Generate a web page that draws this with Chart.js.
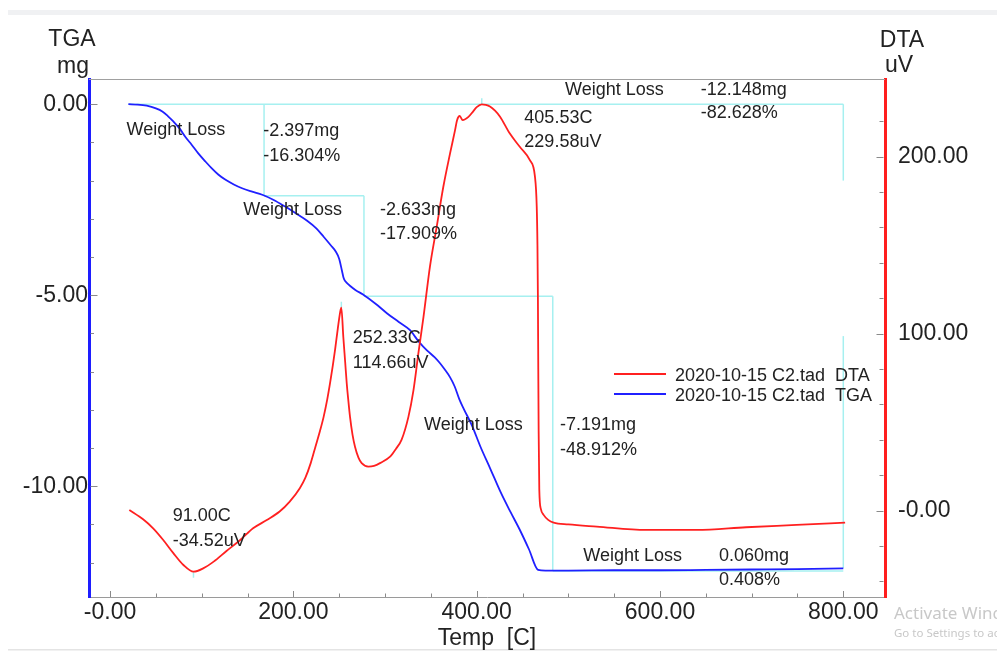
<!DOCTYPE html>
<html>
<head>
<meta charset="utf-8">
<script src="https://cdn.jsdelivr.net/npm/chart.js@4.4.0/dist/chart.umd.min.js"></script>
<style>
  html, body { margin: 0; padding: 0; background: #fff; }
  #wrap { width: 997px; height: 651px; position: relative; }
</style>
</head>
<body>
<div id="wrap"><canvas id="tgaChart"></canvas></div>
<script>
// TGA curve: temperature (C) and mass change (mg)
const tgaTemp = [20, 30, 40, 50, 57, 63, 69, 76, 82, 89, 96, 104, 111, 118, 126, 135, 144, 155, 166, 178,
  191, 203, 215, 225, 233, 241, 246, 250, 253, 254.5, 256, 258, 262, 268, 276, 290, 302, 315, 327, 337,
  346, 354, 360, 365, 371, 376, 381, 386, 395, 404, 415, 426, 437, 447, 457, 467, 475, 500, 550, 600,
  650, 700, 750, 800];
const tgaMass = [0, -0.01, -0.04, -0.11, -0.19, -0.31, -0.45, -0.64, -0.85, -1.06, -1.28, -1.50, -1.68, -1.84, -1.98, -2.10, -2.20, -2.29, -2.37, -2.50,
  -2.68, -2.86, -3.05, -3.25, -3.47, -3.70, -3.85, -4.05, -4.36, -4.52, -4.61, -4.67, -4.76, -4.87, -4.98, -5.23, -5.47, -5.70, -5.91, -6.22,
  -6.45, -6.62, -6.78, -6.94, -7.15, -7.39, -7.72, -7.98, -8.42, -8.96, -9.55, -10.15, -10.68, -11.14, -11.65, -12.19, -12.21, -12.21, -12.20, -12.20,
  -12.19, -12.18, -12.17, -12.15];

// DTA curve: temperature (C) and signal (uV)
const dtaTemp = [21, 36, 47, 58, 69, 80, 91, 102, 113, 127, 142, 156, 171, 185, 196, 207, 213, 219, 224, 229,
  233, 237, 240, 243, 245.5, 248.5, 251, 252.3, 254.5, 256.5, 258.2, 260, 261.8, 264.5, 267.3, 271, 274.5, 281.8, 288, 295,
  305.5, 312, 318, 325.5, 331, 336.4, 342, 349, 356.4, 363.6, 371, 376.4, 378.5, 381.5, 384.7, 391, 396, 400, 405.5, 410,
  414.5, 420, 425.5, 436, 447, 458, 463.5, 465.5, 466.3, 466.8, 467.2, 467.6, 468.3, 470, 473, 478, 484, 500, 531, 585,
  640, 694, 749, 802];
const dtaSignal = [0.4, -4.9, -10, -16.6, -24, -30.7, -34.5, -32.5, -28.8, -22.8, -16.6, -10, -5.3, -0.5, 5.1, 12.7, 18.5, 27, 36, 45,
  53, 63, 72, 82, 91, 103, 112, 114.7, 98, 84, 72, 62, 53, 43, 36, 30, 26.8, 24.9, 25.3, 27,
  30.5, 35, 40, 53, 68, 89, 109.6, 137.9, 160.5, 183, 202, 215, 220.5, 223, 220.7, 222.5, 225.5, 228, 229.6, 229.3,
  228.4, 226, 222.6, 213.2, 205.6, 198, 189, 172, 150, 120, 80, 45, 12, 1, -2.4, -5.2, -6.8, -7.8, -9, -10.9,
  -10.9, -9.4, -8.1, -6.8];

const seriesLabels = ["2020-10-15 C2.tad  DTA", "2020-10-15 C2.tad  TGA"];

// axis ticks (all tick marks) and the labelled ones
const tempTicks = [0, 50, 100, 150, 200, 250, 300, 350, 400, 450, 500, 550, 600, 650, 700, 750, 800];
const tempMajor = [0, 200, 400, 600, 800];
const tempMajorLabels = ["-0.00", "200.00", "400.00", "600.00", "800.00"];
const tgaTicks = [0, -1, -2, -3, -4, -5, -6, -7, -8, -9, -10, -11, -12];
const tgaMajor = [0, -5, -10];
const tgaMajorLabels = ["0.00", "-5.00", "-10.00"];
const dtaTicks = [220, 200, 180, 160, 140, 120, 100, 80, 60, 40, 20, 0, -20, -40];
const dtaMajor = [200, 100, 0];
const dtaMajorLabels = ["200.00", "100.00", "-0.00"];

// weight loss steps (temperature, TGA level)
const stepTemps = [20, 168, 277, 483, 800];
const stepLevels = [0, -2.397, -5.030, -12.221, -12.161];
const totalLoss = -12.148;

// peak markers on the DTA curve
const peakTemps = [91.0, 252.33, 405.53];
const peakValues = [-34.52, 114.66, 229.58];

// text notes, anchored in data units: [text, temp, value, axis]
const notes = [
  ["Weight Loss", 18, -0.80, "yL"], ["-2.397mg", 167, -0.82, "yL"], ["-16.304%", 167, -1.48, "yL"],
  ["Weight Loss", 145.4, -2.90, "yL"], ["-2.633mg", 294.5, -2.90, "yL"], ["-17.909%", 294.5, -3.53, "yL"],
  ["Weight Loss", 496.4, 0.24, "yL"], ["-12.148mg", 644.4, 0.24, "yL"], ["-82.628%", 644.4, -0.37, "yL"],
  ["Weight Loss", 342.5, -8.53, "yL"], ["-7.191mg", 490.9, -8.53, "yL"], ["-48.912%", 490.9, -9.18, "yL"],
  ["Weight Loss", 516.3, -11.95, "yL"], ["0.060mg", 664.4, -11.95, "yL"], ["0.408%", 664.4, -12.58, "yL"],
  ["405.53C", 452, 218.9, "yR"], ["229.58uV", 452, 205.6, "yR"],
  ["252.33C", 264.8, 94.6, "yR"], ["114.66uV", 264.8, 80.8, "yR"],
  ["91.00C", 68.4, -5.8, "yR"], ["-34.52uV", 68.4, -19.8, "yR"]
];

const FONT = "'Liberation Sans', Arial, sans-serif";
const RED = "rgb(255,32,32)";
const BLUE = "rgb(32,32,255)";
const CYAN = "#a6f0f0";
const INK = "#222";

const labelFrom = (majors, labels) => (v) => {
  const i = majors.indexOf(v);
  return i < 0 ? "" : labels[i];
};

const decor = {
  id: "decor",
  beforeDraw(chart) {
    const ctx = chart.ctx;
    ctx.save();
    ctx.fillStyle = "#f0f1f3";
    ctx.fillRect(8, 10, chart.width - 8, 5);
    ctx.fillStyle = "#e4e4e4";
    ctx.fillRect(8, 649, chart.width - 8, 1.5);
    ctx.restore();
  },
  beforeDatasetsDraw(chart) {
    const { ctx, scales: { x, yL, yR } } = chart;
    const seg = (t1, v1, t2, v2, s) => {
      ctx.beginPath();
      ctx.moveTo(x.getPixelForValue(t1), s.getPixelForValue(v1));
      ctx.lineTo(x.getPixelForValue(t2), s.getPixelForValue(v2));
      ctx.stroke();
    };
    ctx.save();
    ctx.strokeStyle = CYAN;
    ctx.lineWidth = 1.5;
    // overall loss frame
    seg(stepTemps[0], 0, stepTemps[4], 0, yL);
    seg(stepTemps[4], 0, stepTemps[4], -2.0, yL);
    seg(stepTemps[4], -6.07, stepTemps[4], totalLoss, yL);
    // individual steps
    for (let i = 1; i < stepTemps.length - 1; i++) {
      seg(stepTemps[i], stepLevels[i - 1], stepTemps[i], stepLevels[i], yL);
      seg(stepTemps[i], stepLevels[i], stepTemps[i + 1], stepLevels[i], yL);
    }
    // peak markers
    peakTemps.forEach((t, i) => {
      const px = x.getPixelForValue(t);
      const py = yR.getPixelForValue(peakValues[i]);
      const d = i === 0 ? 3 : -3;
      ctx.beginPath();
      ctx.moveTo(px, py);
      ctx.lineTo(px, py + d * 2);
      ctx.stroke();
    });
    ctx.restore();
  },
  afterDraw(chart) {
    const { ctx, chartArea: a, scales } = chart;
    ctx.save();

    // top frame line
    ctx.strokeStyle = "#a0a0a0";
    ctx.lineWidth = 1;
    ctx.beginPath();
    ctx.moveTo(a.left, a.top + 0.5);
    ctx.lineTo(a.right, a.top + 0.5);
    ctx.stroke();

    // inward tick marks
    ctx.strokeStyle = "#8a8a8a";
    ctx.lineWidth = 1;
    scales.x.ticks.forEach(t => {
      const px = Math.round(scales.x.getPixelForValue(t.value)) + 0.5;
      const len = t.label ? 6 : 3.5;
      ctx.beginPath(); ctx.moveTo(px, a.bottom); ctx.lineTo(px, a.bottom - len); ctx.stroke();
    });
    scales.yL.ticks.forEach(t => {
      const py = Math.round(scales.yL.getPixelForValue(t.value)) + 0.5;
      const len = t.label ? 7 : 3.5;
      ctx.beginPath(); ctx.moveTo(a.left + 1.5, py); ctx.lineTo(a.left + 1.5 + len, py); ctx.stroke();
    });
    scales.yR.ticks.forEach(t => {
      const py = Math.round(scales.yR.getPixelForValue(t.value)) + 0.5;
      const len = t.label ? 7 : 4;
      ctx.beginPath(); ctx.moveTo(a.right - 1.5, py); ctx.lineTo(a.right - 1.5 - len, py); ctx.stroke();
    });

    // axis titles
    ctx.fillStyle = INK;
    ctx.font = "23px " + FONT;
    ctx.textAlign = "center";
    ctx.textBaseline = "alphabetic";
    ctx.fillText("TGA", a.left - 17, 46);
    ctx.fillText("mg", a.left - 16, 73);
    ctx.fillText("DTA", a.right + 17, 47);
    ctx.fillText("uV", a.right + 14, 72);
    ctx.fillText("Temp  [C]", (a.left + a.right) / 2, 645);

    // notes
    ctx.font = "18px " + FONT;
    ctx.textAlign = "left";
    notes.forEach(([text, t, v, axis]) => {
      ctx.fillText(text, scales.x.getPixelForValue(t), scales[axis].getPixelForValue(v));
    });

    // legend
    chart.data.datasets.forEach((ds, i) => {
      const ly = a.top + 295 + i * 20;
      ctx.strokeStyle = ds.borderColor;
      ctx.lineWidth = 2;
      ctx.beginPath();
      ctx.moveTo(a.right - 271, ly);
      ctx.lineTo(a.right - 219, ly);
      ctx.stroke();
      ctx.fillStyle = INK;
      ctx.fillText(ds.label, a.right - 210, ly + 6.5);
    });

    // screen watermark
    ctx.fillStyle = "#c8c8c8";
    ctx.font = "17px 'Noto Sans', 'Open Sans', sans-serif";
    ctx.fillText("Activate Windows", 894, 619);
    ctx.font = "11.5px 'Noto Sans', 'Open Sans', sans-serif";
    ctx.fillText("Go to Settings to activate Windows.", 894, 637);
    ctx.restore();
  }
};

const ctxMain = document.getElementById("tgaChart").getContext("2d");

new Chart(ctxMain, {
  type: "line",
  data: {
    datasets: [
      {
        label: seriesLabels[0],
        data: dtaTemp.map((t, i) => ({ x: t, y: dtaSignal[i] })),
        yAxisID: "yR",
        borderColor: RED,
        borderWidth: 1.8,
        pointRadius: 0,
        cubicInterpolationMode: "monotone",
        fill: false,
      },
      {
        label: seriesLabels[1],
        data: tgaTemp.map((t, i) => ({ x: t, y: tgaMass[i] })),
        yAxisID: "yL",
        borderColor: BLUE,
        borderWidth: 1.8,
        pointRadius: 0,
        cubicInterpolationMode: "monotone",
        fill: false,
      },
    ],
  },
  options: {
    responsive: true,
    maintainAspectRatio: false,
    animation: false,
    layout: { padding: { top: 79, left: 0, right: 0, bottom: 0 } },
    plugins: { legend: { display: false }, tooltip: { enabled: false } },
    scales: {
      x: {
        type: "linear",
        position: "bottom",
        min: -23,
        max: 845.5,
        afterBuildTicks: (s) => { s.ticks = tempTicks.map(v => ({ value: v })); },
        afterFit: (s) => { s.height = 54; },
        ticks: {
          autoSkip: false, maxRotation: 0, padding: 2, color: INK,
          font: { family: FONT, size: 23 },
          callback: labelFrom(tempMajor, tempMajorLabels),
        },
        grid: { display: true, drawOnChartArea: false, drawTicks: false },
        border: { display: true, color: "#9a9a9a", width: 1 },
      },
      yL: {
        type: "linear",
        position: "left",
        min: -12.9,
        max: 0.66,
        afterBuildTicks: (s) => { s.ticks = tgaTicks.map(v => ({ value: v })); },
        afterFit: (s) => { s.width = 89; },
        ticks: {
          autoSkip: false, padding: 1, color: INK,
          font: { family: FONT, size: 23 },
          callback: labelFrom(tgaMajor, tgaMajorLabels),
        },
        grid: { display: true, drawOnChartArea: false, drawTicks: false },
        border: { display: true, color: "rgb(30,30,255)", width: 3 },
      },
      yR: {
        type: "linear",
        position: "right",
        min: -48.8,
        max: 243.9,
        afterBuildTicks: (s) => { s.ticks = dtaTicks.map(v => ({ value: v })); },
        afterFit: (s) => { s.width = 112; },
        ticks: {
          autoSkip: false, padding: 13, color: INK,
          font: { family: FONT, size: 23 },
          callback: labelFrom(dtaMajor, dtaMajorLabels),
        },
        grid: { display: true, drawOnChartArea: false, drawTicks: false },
        border: { display: true, color: "rgb(255,30,30)", width: 3 },
      },
    },
  },
  plugins: [decor],
});
</script>
</body>
</html>
